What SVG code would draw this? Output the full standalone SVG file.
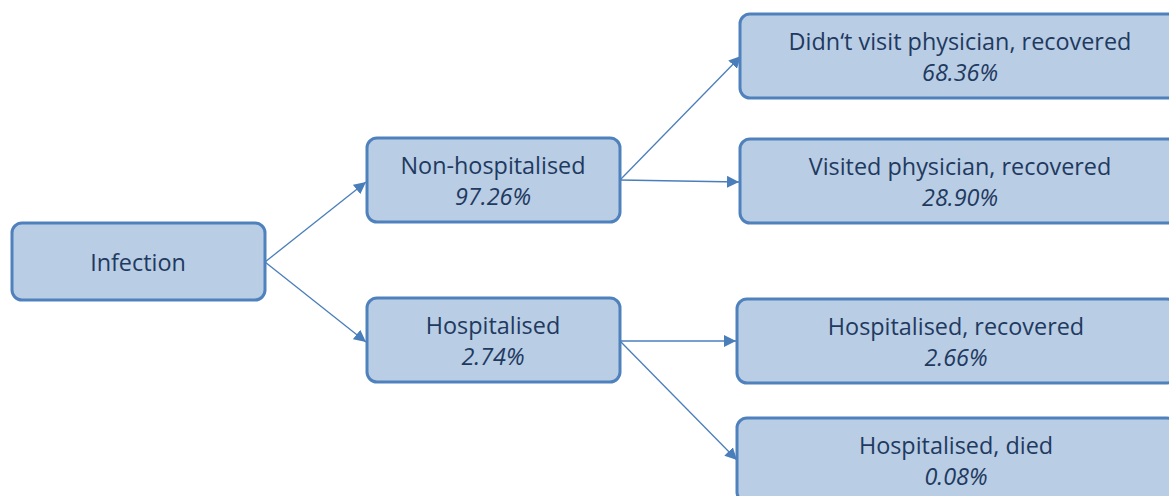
<svg xmlns="http://www.w3.org/2000/svg" width="1169" height="496" viewBox="0 0 1169 496">
<style>
.box{fill:#B9CDE5;stroke:#4F81BD;stroke-width:3}
.t{font-family:"Open Sans","Liberation Sans",Arial,sans-serif;font-size:23.4px;fill:#1F3A60;text-anchor:middle}
.i{font-style:italic}
.c{stroke:#4A7EBB;stroke-width:1.3;fill:none;marker-end:url(#ah)}
</style>
<defs>
<marker id="ah" viewBox="0 0 10 10" refX="10" refY="5" markerWidth="12" markerHeight="12" markerUnits="userSpaceOnUse" orient="auto">
<path d="M0,0 L10,5 L0,10 z" fill="#4A7EBB"/>
</marker>
</defs>
<rect width="1169" height="496" fill="#fff"/>
<g id="connectors">
<line class="c" x1="265" y1="262" x2="366" y2="182"/>
<line class="c" x1="265" y1="262" x2="366" y2="342"/>
<line class="c" x1="620" y1="180" x2="741" y2="56"/>
<line class="c" x1="620" y1="180" x2="739" y2="182"/>
<line class="c" x1="620" y1="341" x2="736" y2="341"/>
<line class="c" x1="620" y1="341" x2="737" y2="460"/>
</g>
<g id="infection">
<rect class="box" x="12" y="223" width="253" height="77" rx="10"/>
<text class="t" x="138" y="271">Infection</text>
</g>
<g id="nonhosp">
<rect class="box" x="367" y="138" width="253" height="84" rx="10"/>
<text class="t" x="493" y="174">Non-hospitalised</text>
<text class="t i" x="493" y="205">97.26%</text>
</g>
<g id="hosp">
<rect class="box" x="367" y="298" width="253" height="84" rx="10"/>
<text class="t" x="493" y="334">Hospitalised</text>
<text class="t i" x="493" y="365">2.74%</text>
</g>
<g id="didnt">
<rect class="box" x="740" y="14" width="440" height="84" rx="10"/>
<text class="t" x="960" y="50">Didn‘t visit physician, recovered</text>
<text class="t i" x="960" y="81">68.36%</text>
</g>
<g id="visited">
<rect class="box" x="740" y="139" width="440" height="84" rx="10"/>
<text class="t" x="960" y="175">Visited physician, recovered</text>
<text class="t i" x="960" y="206">28.90%</text>
</g>
<g id="hosprec">
<rect class="box" x="737" y="299" width="440" height="84" rx="10"/>
<text class="t" x="956" y="335">Hospitalised, recovered</text>
<text class="t i" x="956" y="366">2.66%</text>
</g>
<g id="died">
<rect class="box" x="737" y="418" width="440" height="84" rx="10"/>
<text class="t" x="956" y="454">Hospitalised, died</text>
<text class="t i" x="956" y="485">0.08%</text>
</g>
</svg>
